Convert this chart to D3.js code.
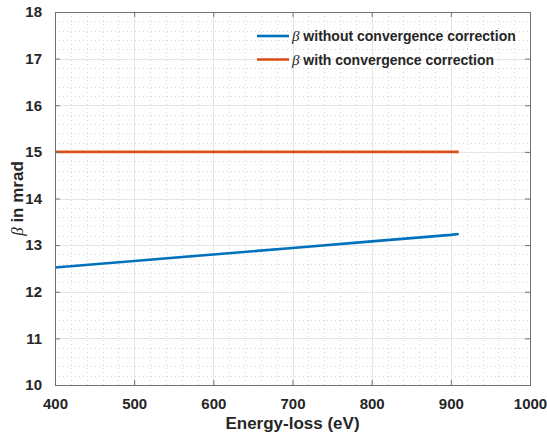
<!DOCTYPE html>
<html>
<head>
<meta charset="utf-8">
<script src="https://cdn.jsdelivr.net/npm/d3@7/dist/d3.min.js"></script>
<style>
  html, body { margin: 0; padding: 0; background: #fff; }
  svg { display: block; }
  text { font-family: "Liberation Sans", Helvetica, Arial, sans-serif; fill: #262626; }
</style>
</head>
<body>
<svg id="chart" width="547" height="437"></svg>
<script>
// Energy-loss samples (eV) and collection semi-angle (mrad)
const energyLoss = [400, 500, 600, 700, 800, 900, 910];
const betaWithout = [12.52, 12.66, 12.80, 12.94, 13.08, 13.22, 13.24];
const betaWith = [15, 15, 15, 15, 15, 15, 15];

const seriesNames = ["without convergence correction", "with convergence correction"];
const seriesColors = ["#0072BD", "#D95319"];

const xTicks = [400, 500, 600, 700, 800, 900, 1000];
const yTicks = [10, 11, 12, 13, 14, 15, 16, 17, 18];

const svg = d3.select("#chart");
const margin = { left: 55, right: 17, top: 12, bottom: 52 };
const W = 547, H = 437;
const x0 = margin.left, x1 = W - margin.right;
const y0 = margin.top, y1 = H - margin.bottom;

const x = d3.scaleLinear().domain([400, 1000]).range([x0, x1]);
const y = d3.scaleLinear().domain([10, 18]).range([y1, y0]);

// minor grid (dotted)
const xMinor = d3.range(400, 1000.01, 20).filter(v => v % 100 !== 0);
const yMinor = d3.range(10, 18.001, 0.2).filter(v => Math.abs(v - Math.round(v)) > 1e-6);
const grid = svg.append("g");
grid.selectAll(".xm").data(xMinor).join("line")
  .attr("x1", d => Math.round(x(d)) + 0.5).attr("x2", d => Math.round(x(d)) + 0.5)
  .attr("y1", y0).attr("y2", y1)
  .attr("stroke", "#dadada").attr("stroke-width", 1).attr("stroke-dasharray", "1,3");
grid.selectAll(".ym").data(yMinor).join("line")
  .attr("y1", d => Math.round(y(d)) + 0.5).attr("y2", d => Math.round(y(d)) + 0.5)
  .attr("x1", x0).attr("x2", x1)
  .attr("stroke", "#dadada").attr("stroke-width", 1).attr("stroke-dasharray", "1,3");
// major grid
grid.selectAll(".xg").data(xTicks).join("line")
  .attr("x1", d => Math.round(x(d)) + 0.5).attr("x2", d => Math.round(x(d)) + 0.5)
  .attr("y1", y0).attr("y2", y1)
  .attr("stroke", "#e6e6e6").attr("stroke-width", 1);
grid.selectAll(".yg").data(yTicks).join("line")
  .attr("y1", d => Math.round(y(d)) + 0.5).attr("y2", d => Math.round(y(d)) + 0.5)
  .attr("x1", x0).attr("x2", x1)
  .attr("stroke", "#e6e6e6").attr("stroke-width", 1);

// data lines
const line = d3.line().x(d => x(d[0])).y(d => y(d[1]));
[betaWithout, betaWith].forEach((vals, i) => {
  svg.append("path")
    .datum(energyLoss.map((e, k) => [e, vals[k]]))
    .attr("d", line)
    .attr("fill", "none")
    .attr("stroke", seriesColors[i])
    .attr("stroke-width", 2.6);
});

// axes (box with inward ticks)
const axisColor = "#707070";
function styleAxis(g, showLabels) {
  g.select(".domain").remove();
  g.selectAll(".tick line").attr("stroke", axisColor);
  g.selectAll(".tick text")
    .style("font-size", "15px").style("font-weight", "bold")
    .attr("fill", "#262626");
  if (!showLabels) g.selectAll(".tick text").remove();
}
svg.append("g").attr("transform", `translate(0,${y1})`)
  .call(d3.axisBottom(x).tickValues(xTicks).tickSizeInner(-5).tickSizeOuter(0).tickPadding(13).tickFormat(d3.format("d")))
  .call(g => styleAxis(g, true));
svg.append("g").attr("transform", `translate(0,${y0})`)
  .call(d3.axisTop(x).tickValues(xTicks).tickSizeInner(-5).tickSizeOuter(0))
  .call(g => styleAxis(g, false));
svg.append("g").attr("transform", `translate(${x0},0)`)
  .call(d3.axisLeft(y).tickValues(yTicks).tickSizeInner(-5).tickSizeOuter(0).tickPadding(13).tickFormat(d3.format("d")))
  .call(g => styleAxis(g, true));
svg.append("g").attr("transform", `translate(${x1},0)`)
  .call(d3.axisRight(y).tickValues(yTicks).tickSizeInner(-5).tickSizeOuter(0))
  .call(g => styleAxis(g, false));

svg.append("rect")
  .attr("x", x0 + 0.5).attr("y", y0 + 0.5)
  .attr("width", x1 - x0).attr("height", y1 - y0)
  .attr("fill", "none").attr("stroke", axisColor).attr("stroke-width", 1);

// axis titles
svg.append("text")
  .attr("x", (x0 + x1) / 2).attr("y", 429)
  .attr("text-anchor", "middle")
  .style("font-size", "17px").style("font-weight", "bold")
  .text("Energy-loss (eV)");

const yTitle = svg.append("text")
  .attr("transform", `translate(23,${(y0 + y1) / 2}) rotate(-90)`)
  .attr("text-anchor", "middle")
  .style("font-size", "17px").style("font-weight", "bold");
yTitle.append("tspan")
  .style("font-family", "'Liberation Serif', 'Times New Roman', serif")
  .style("font-style", "italic").style("font-weight", "normal")
  .text("β");
yTitle.append("tspan").text(" in mrad");

// legend
const legend = svg.append("g");
const legendRows = [36, 59.5];
seriesNames.forEach((name, i) => {
  const ly = legendRows[i];
  legend.append("line")
    .attr("x1", 257).attr("x2", 289).attr("y1", ly).attr("y2", ly)
    .attr("stroke", seriesColors[i]).attr("stroke-width", 2.6);
  const t = legend.append("text")
    .attr("x", 292).attr("y", ly + 5)
    .style("font-size", "14px").style("font-weight", "bold");
  t.append("tspan")
    .style("font-family", "'Liberation Serif', 'Times New Roman', serif")
    .style("font-style", "italic").style("font-weight", "normal")
    .style("font-size", "15px")
    .text("β");
  t.append("tspan").text(" " + name);
});
</script>
</body>
</html>
